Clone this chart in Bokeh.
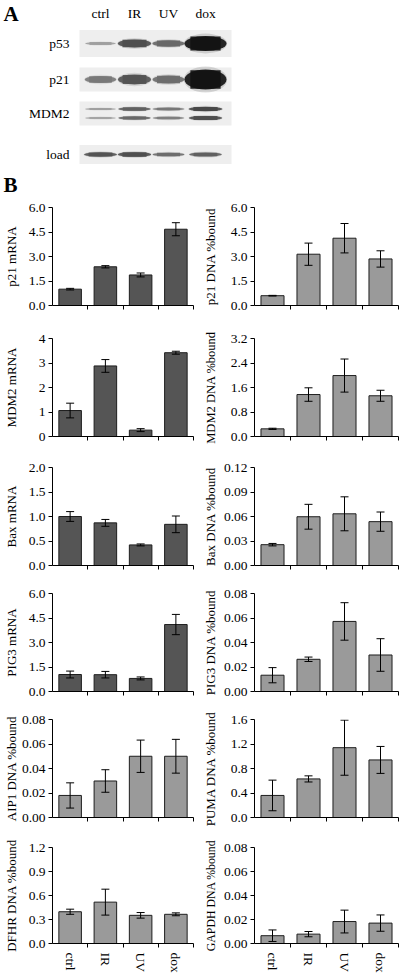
from bokeh.plotting import figure
from bokeh.layouts import column, row
from bokeh.models import (Range1d, FixedTicker, ColumnDataSource, Whisker, TeeHead,
                          PrintfTickFormatter, CustomJSTickFormatter)
from bokeh.core.properties import value
from bokeh.embed import file_html
from bokeh.resources import INLINE

FONT = "Liberation Serif"

# ---------------- data ----------------
lanes = ["ctrl", "IR", "UV", "dox"]

# Panel A: western blot relative band signals (0..1)
blot_proteins = ["p53", "p21", "MDM2", "load"]
p53_signal = [0.20, 0.53, 0.42, 1.00]
p21_signal = [0.35, 0.50, 0.40, 1.00]
mdm2_signal_upper = [0.20, 0.45, 0.36, 0.55]
mdm2_signal_lower = [0.18, 0.42, 0.33, 0.52]
load_signal = [0.50, 0.52, 0.40, 0.45]

# Panel B: bar values and errors
p21_mrna = [1.00, 2.37, 1.87, 4.67]
p21_mrna_err = [0.05, 0.07, 0.12, 0.40]
p21_dna = [0.60, 3.14, 4.12, 2.85]
p21_dna_err = [0.02, 0.68, 0.90, 0.50]
mdm2_mrna = [1.06, 2.88, 0.26, 3.42]
mdm2_mrna_err = [0.30, 0.26, 0.06, 0.06]
mdm2_dna = [0.25, 1.37, 1.99, 1.33]
mdm2_dna_err = [0.02, 0.22, 0.54, 0.18]
bax_mrna = [1.00, 0.87, 0.42, 0.84]
bax_mrna_err = [0.10, 0.07, 0.02, 0.17]
bax_dna = [0.0255, 0.0597, 0.0633, 0.0537]
bax_dna_err = [0.0015, 0.0152, 0.0208, 0.0118]
pig3_mrna = [1.04, 1.03, 0.80, 4.10]
pig3_mrna_err = [0.21, 0.20, 0.09, 0.62]
pig3_dna = [0.0133, 0.0263, 0.0572, 0.0298]
pig3_dna_err = [0.0062, 0.0018, 0.0153, 0.0133]
aip1_dna = [0.0180, 0.0298, 0.0500, 0.0500]
aip1_dna_err = [0.0103, 0.0092, 0.0132, 0.0138]
puma_dna = [0.36, 0.63, 1.14, 0.94]
puma_dna_err = [0.25, 0.05, 0.45, 0.22]
dfhr_dna = [0.397, 0.517, 0.352, 0.365]
dfhr_dna_err = [0.032, 0.162, 0.035, 0.018]
gapdh_dna = [0.0065, 0.0078, 0.0183, 0.0170]
gapdh_dna_err = [0.0048, 0.0022, 0.0095, 0.0068]

y_labels = ["p21 mRNA", "p21 DNA %bound", "MDM2 mRNA", "MDM2 DNA %bound",
            "Bax mRNA", "Bax DNA %bound", "PIG3 mRNA", "PIG3 DNA %bound",
            "AIP1 DNA %bound", "PUMA DNA %bound", "DFHR DNA %bound", "GAPDH DNA %bound"]
y_max = [6.0, 6.0, 4.0, 3.2, 2.0, 0.12, 6.0, 0.08, 0.08, 1.6, 1.2, 0.08]
y_fmt = ["%.1f", "%.1f", "%d", "%.1f", "%.1f", "%.2f", "%.1f", "%.2f", "%.2f", "%.1f", "%.1f", "%.2f"]
kinds = ["mRNA", "DNA", "mRNA", "DNA", "mRNA", "DNA", "mRNA", "DNA", "DNA", "DNA", "DNA", "DNA"]
series = [(p21_mrna, p21_mrna_err), (p21_dna, p21_dna_err),
          (mdm2_mrna, mdm2_mrna_err), (mdm2_dna, mdm2_dna_err),
          (bax_mrna, bax_mrna_err), (bax_dna, bax_dna_err),
          (pig3_mrna, pig3_mrna_err), (pig3_dna, pig3_dna_err),
          (aip1_dna, aip1_dna_err), (puma_dna, puma_dna_err),
          (dfhr_dna, dfhr_dna_err), (gapdh_dna, gapdh_dna_err)]

# ---------------- layout / style constants ----------------
TOTAL_W = 400
PANEL_A_H = 199
ROW_H = [131, 129, 126, 126, 128, 136]
FRAME_H = 98
TOP_B = 8
COL_W = [197, 203]
COL_BL = [51, 57]
COL_BR = [4, 2]
COL_D = [31, 34]      # distance frame edge -> axis label
TICK_FS = 13.5
LABEL_FS = [13, 13, 13, 12.5, 13, 13, 13, 13, 13, 13, 13, 11.8]

# ---------------- panel A ----------------
pa = figure(width=TOTAL_W, height=PANEL_A_H, x_range=Range1d(0, TOTAL_W),
            y_range=Range1d(PANEL_A_H, 0), x_axis_location=None, y_axis_location=None,
            min_border=0, toolbar_location=None, output_backend="svg")
pa.outline_line_color = None
pa.xgrid.grid_line_color = None
pa.ygrid.grid_line_color = None

lane_cx = [100 + 34 * i for i in range(len(lanes))]
row_cy = [43, 79, 113, 154]
row_half = [13.5, 12, 12, 9.5]
row_hmax = [15, 20, 8, 9]
box_l, box_r = 79, 231

pa.quad(left=[box_l] * 4, right=[box_r] * 4,
        top=[c - h for c, h in zip(row_cy, row_half)],
        bottom=[c + h for c, h in zip(row_cy, row_half)],
        fill_color="#eeeeee", line_color=None)


def gray(sig):
    d = min(1.0, 0.2 + 1.05 * sig)
    g = int(round(255 * (1 - 0.93 * d)))
    return "#%02x%02x%02x" % (g, g, g)


def bands(signals, cy, hmax):
    xs, ys, ws, hs, cs = [], [], [], [], []
    for i, s in enumerate(signals):
        xs.append(lane_cx[i] + (3 if i == 3 else 0))
        ys.append(cy)
        ws.append(30 + 12 * s * s)
        hs.append(max(2.2, hmax * s))
        cs.append(gray(s))
    # faint halo
    pa.ellipse(x=xs, y=ys, width=[w * 1.03 for w in ws], height=[h * 1.25 + 1 for h in hs],
               fill_color=cs, fill_alpha=0.15, line_color=None)
    # pill-shaped band: rounded ends + straight body
    pa.ellipse(x=xs, y=ys, width=ws, height=hs, fill_color=cs, fill_alpha=0.9, line_color=None)
    pa.rect(x=xs, y=ys, width=[w * 0.72 for w in ws], height=[h * 0.92 for h in hs],
            fill_color=cs, fill_alpha=0.9, line_color=None)


bands(p53_signal, row_cy[0], row_hmax[0])
bands(p21_signal, row_cy[1], row_hmax[1])
bands(mdm2_signal_upper, row_cy[2] - 4.5, row_hmax[2])
bands(mdm2_signal_lower, row_cy[2] + 4.5, row_hmax[2])
bands(load_signal, row_cy[3], row_hmax[3])

pa.text(x=lane_cx[:3] + [lane_cx[3] + 3], y=[13] * 4, text=lanes, text_font=value(FONT),
        text_font_size="13.5px", text_align="center", text_baseline="middle", text_color="black")
pa.text(x=[69] * 4, y=row_cy, text=blot_proteins, text_font=value(FONT), text_font_size="13.5px",
        text_align="right", text_baseline="middle", text_color="black")
pa.text(x=[3, 3], y=[13, 184], text=["A", "B"], text_font=value(FONT), text_font_size="21px",
        text_font_style="bold", text_align="left", text_baseline="middle", text_color="black")

# ---------------- panel B ----------------


def est_width(s, fs):
    w = 0.0
    for ch in s:
        w += 0.25 * fs if ch == "." else 0.5 * fs
    return w


def bar_chart(idx):
    r, c = divmod(idx, 2)
    vals, errs = series[idx]
    ymax = y_max[idx]
    H = ROW_H[r]
    last = (r == len(ROW_H) - 1)
    p = figure(width=COL_W[c], height=H, x_range=Range1d(0, len(lanes)),
               y_range=Range1d(0, ymax), toolbar_location=None, output_backend="svg",
               min_border_left=COL_BL[c], min_border_right=COL_BR[c],
               min_border_top=TOP_B, min_border_bottom=H - TOP_B - FRAME_H)
    p.outline_line_color = None
    p.xgrid.grid_line_color = None
    p.ygrid.grid_line_color = None
    p.background_fill_color = "white"
    p.border_fill_color = "white"

    xs = [i + 0.5 for i in range(len(lanes))]
    src = ColumnDataSource(dict(x=xs, top=vals,
                                upper=[v + e for v, e in zip(vals, errs)],
                                lower=[v - e for v, e in zip(vals, errs)]))
    fill = "#555555" if kinds[idx] == "mRNA" else "#9a9a9a"
    p.vbar(x="x", top="top", bottom=0, width=0.64, source=src,
           fill_color=fill, line_color="#1e1e1e", line_width=1)
    wk = Whisker(source=src, base="x", upper="upper", lower="lower",
                 line_color="black", line_width=1, level="annotation",
                 upper_head=TeeHead(size=8, line_color="black", line_width=1),
                 lower_head=TeeHead(size=8, line_color="black", line_width=1))
    p.add_layout(wk)

    # y axis
    yticks = [ymax * i / 4 for i in range(5)]
    ya = p.yaxis[0]
    ya.ticker = FixedTicker(ticks=yticks)
    ya.formatter = PrintfTickFormatter(format=y_fmt[idx])
    ya.major_tick_out = 4
    ya.major_tick_in = 0
    ya.minor_tick_out = 0
    ya.minor_tick_in = 0
    ya.major_label_standoff = 3
    ya.major_label_text_font = FONT
    ya.major_label_text_font_size = "%.1fpx" % TICK_FS
    ya.major_label_text_color = "black"
    ya.axis_line_color = "black"
    ya.major_tick_line_color = "black"
    ya.axis_label = y_labels[idx]
    ya.axis_label_text_font = FONT
    ya.axis_label_text_font_size = "%.1fpx" % LABEL_FS[idx]
    ya.axis_label_text_font_style = "normal"
    ya.axis_label_text_color = "black"
    wmax = max(est_width(y_fmt[idx] % t, TICK_FS) for t in yticks)
    ya.axis_label_standoff = int(max(0, round(COL_D[c] - 7 - wmax)))

    # x axis: ticks at category boundaries, labels at centres
    xa = p.xaxis[0]
    xa.ticker = FixedTicker(ticks=xs, minor_ticks=list(range(1, len(lanes) + 1)))
    xa.major_tick_out = 0
    xa.major_tick_in = 0
    xa.minor_tick_out = 4
    xa.minor_tick_in = 0
    xa.minor_tick_line_color = "black"
    xa.axis_line_color = "black"
    if last:
        xa.formatter = CustomJSTickFormatter(args=dict(names=lanes),
                                             code="return names[Math.floor(tick)] || '';")
        xa.major_label_orientation = "vertical"
        xa.major_label_standoff = 5
        xa.major_label_text_font = FONT
        xa.major_label_text_font_size = "13.5px"
        xa.major_label_text_color = "black"
    else:
        xa.formatter = CustomJSTickFormatter(code="return '';")
        xa.major_label_standoff = 0
    return p


rows = [pa]
for r in range(len(ROW_H)):
    rows.append(row(bar_chart(2 * r), bar_chart(2 * r + 1)))

layout = column(*rows)

with open("out.html", "w") as f:
    f.write(file_html(layout, INLINE))
